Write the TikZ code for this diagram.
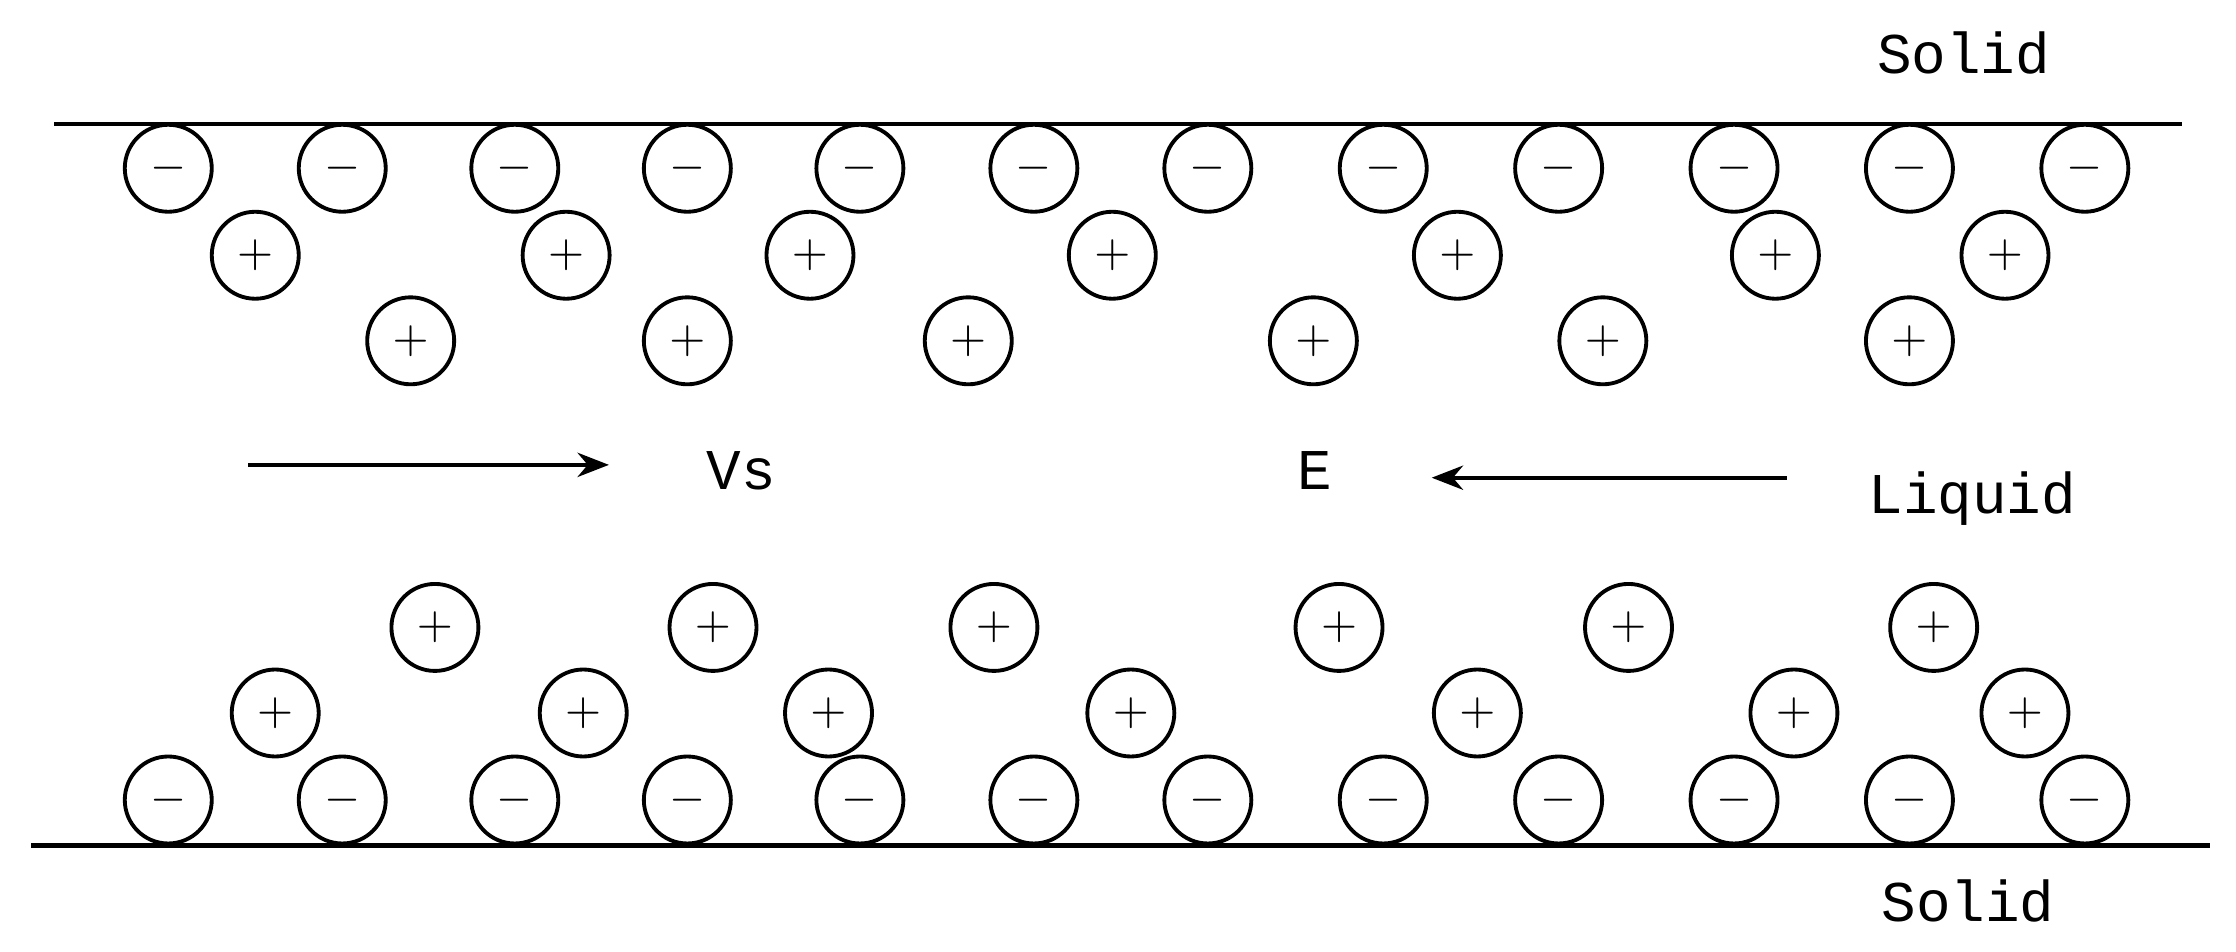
\documentclass[tikz,border=0pt]{standalone}
\usepackage{fontspec}
\setmainfont{Liberation Mono}
\usetikzlibrary{arrows.meta}
\begin{document}
\begin{tikzpicture}[x=0.1mm,y=-0.1mm,
  ion/.style={circle,draw,line width=0.27mm,minimum size=6.1mm,inner sep=0pt,font=\fontsize{9}{9}\selectfont},
  wall/.style={line width=0.3mm},
  arr/.style={line width=0.28mm,-{Stealth[length=2.2mm,width=1.7mm]}},
  lbl/.style={font=\fontsize{11.5}{12}\selectfont}]
\useasboundingbox (0,0) rectangle (1568,667);
\coordinate (tl) at (38,87); \coordinate (tr) at (1530,87);
\coordinate (bl) at (22,593); \coordinate (br) at (1550,593);
\draw[wall] (tl) -- (tr);
\draw[wall] (bl) -- (br);
\foreach \x [count=\i] in {118,240,361,482,603,725,847,970,1093,1216,1339,1462}{
  \node[ion] (tm\i) at (\x,118) {$-$};
  \node[ion] (bm\i) at (\x,561) {$-$};
}
\foreach \x [count=\i] in {179,397,568,780,1022,1245,1406}
  \node[ion] (tp\i) at (\x,179) {$+$};
\foreach \x [count=\i] in {288,482,679,921,1124,1339}
  \node[ion] (tq\i) at (\x,239) {$+$};
\foreach \x [count=\i] in {305,500,697,939,1142,1356}
  \node[ion] (bq\i) at (\x,440) {$+$};
\foreach \x [count=\i] in {193,409,581,793,1036,1258,1420}
  \node[ion] (bp\i) at (\x,500) {$+$};
\coordinate (a1s) at (174,326); \coordinate (a1e) at (427,326);
\coordinate (a2s) at (1253,335); \coordinate (a2e) at (1004,335);
\draw[arr] (a1s) -- (a1e);
\draw[arr] (a2s) -- (a2e);
\node[lbl] (vs) at (520,330) {Vs};
\node[lbl] (e) at (922,330) {E};
\node[lbl] (liq) at (1383,350) {Liquid};
\node[lbl] (s1) at (1377,37) {Solid};
\node[lbl] (s2) at (1380,632) {Solid};
\end{tikzpicture}
\end{document}
